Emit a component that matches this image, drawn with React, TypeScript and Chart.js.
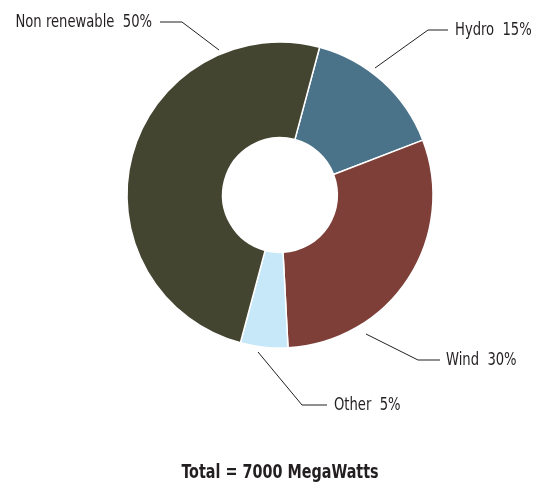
import React, { useEffect, useRef } from "react";
import { Chart, registerables } from "chart.js";

Chart.register(...registerables);

// Generation mix by source, percent of total capacity
const categories = ["Hydro", "Wind", "Other", "Non renewable"];
const shares = [15, 30, 5, 50];
const colors = ["#4a7389", "#7d3f38", "#c6e8f9", "#434531"];
const totalLabel = "Total = 7000 MegaWatts";

// Leader line geometry for each outside label: start (on the ring), elbow, end, text anchor
const labelLayout = [
  { start: [375, 68], elbow: [428, 30], end: [448, 30], text: [455, 30], align: "left" },
  { start: [366, 334], elbow: [418, 360], end: [440, 360], text: [446, 360], align: "left" },
  { start: [258, 352], elbow: [302, 405], end: [327, 405], text: [334, 405], align: "left" },
  { start: [219, 50], elbow: [182, 22], end: [160, 22], text: [152, 22], align: "right" },
];

const FONT = '"DejaVu Sans Condensed", "Liberation Sans Narrow", sans-serif';
const TEXT = "#231f20";

// Draws text squeezed horizontally to get a condensed look
function condensedText(
  ctx: CanvasRenderingContext2D,
  text: string,
  x: number,
  y: number,
  align: "left" | "right" | "center",
  squeeze: number
) {
  const w = ctx.measureText(text).width * squeeze;
  let left = x;
  if (align === "right") left = x - w;
  if (align === "center") left = x - w / 2;
  ctx.save();
  ctx.translate(left, y);
  ctx.scale(squeeze, 1);
  ctx.textAlign = "left";
  ctx.fillText(text, 0, 0);
  ctx.restore();
}

const labelsPlugin = {
  id: "outsideLabels",
  afterDraw(chart: any) {
    const ctx = chart.ctx as CanvasRenderingContext2D;
    ctx.save();
    ctx.strokeStyle = TEXT;
    ctx.lineWidth = 1;
    ctx.fillStyle = TEXT;
    ctx.font = `17px ${FONT}`;
    ctx.textBaseline = "middle";
    categories.forEach((name, i) => {
      const l = labelLayout[i];
      ctx.beginPath();
      ctx.moveTo(l.start[0], l.start[1]);
      ctx.lineTo(l.elbow[0], l.elbow[1]);
      ctx.lineTo(l.end[0], l.end[1]);
      ctx.stroke();
      condensedText(ctx, `${name}  ${shares[i]}%`, l.text[0], l.text[1] + 1, l.align as any, 0.86);
    });
    ctx.font = `bold 19px ${FONT}`;
    condensedText(ctx, totalLabel, 280, 473, "center", 0.84);
    ctx.restore();
  },
};

export default function App() {
  const ref = useRef<HTMLCanvasElement>(null);
  useEffect(() => {
    document.body.style.margin = "0";
    const chart = new Chart(ref.current!, {
      type: "doughnut",
      data: {
        labels: categories,
        datasets: [
          {
            data: shares,
            backgroundColor: colors,
            borderColor: "#ffffff",
            borderWidth: 1.5,
          },
        ],
      },
      options: {
        animation: false,
        responsive: false,
        rotation: 15,
        radius: 153,
        cutout: "37.5%",
        layout: { padding: { left: 25, right: 0, top: 0, bottom: 99 } },
        plugins: {
          legend: { display: false },
          tooltip: { enabled: false },
        },
      },
      plugins: [labelsPlugin],
    });
    return () => chart.destroy();
  }, []);
  return (
    <div style={{ width: 535, height: 489, background: "#fff" }}>
      <canvas ref={ref} width={535} height={489} />
    </div>
  );
}
